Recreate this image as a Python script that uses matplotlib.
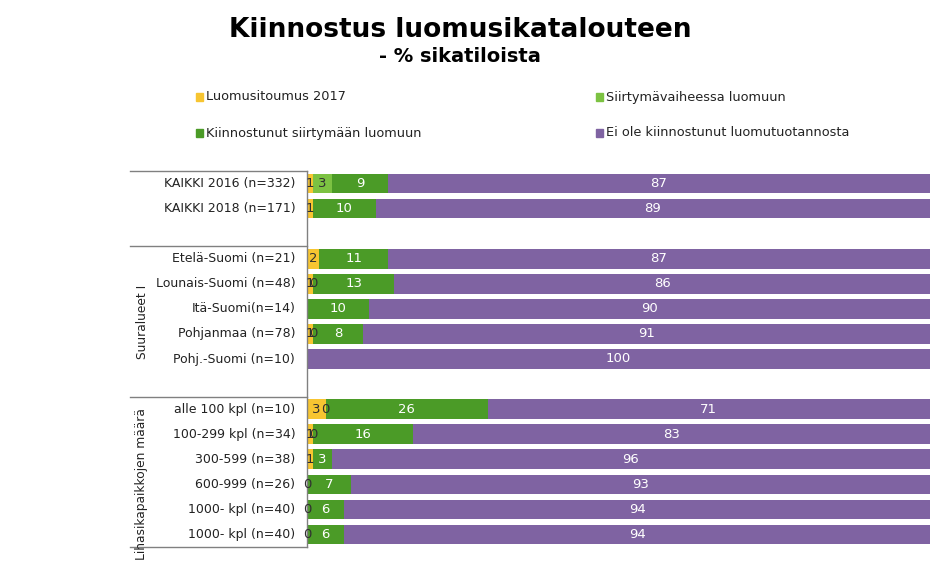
import matplotlib
matplotlib.use("Agg")
import matplotlib.pyplot as plt
import matplotlib.transforms as mtransforms
from matplotlib.lines import Line2D
import numpy as np

plt.rcParams['font.family'] = ['DejaVu Sans']

categories = ["KAIKKI 2016 (n=332)", "KAIKKI 2018 (n=171)",
              "Etelä-Suomi (n=21)", "Lounais-Suomi (n=48)", "Itä-Suomi(n=14)",
              "Pohjanmaa (n=78)", "Pohj.-Suomi (n=10)",
              "alle 100 kpl (n=10)", "100-299 kpl (n=34)", "300-599 (n=38)",
              "600-999 (n=26)", "1000- kpl (n=40)", "1000- kpl (n=40)"]
groups = [None, "Suuralueet I", "Lihasikapaikkojen määrä"]
group_sizes = [2, 5, 6]

series_names = ["Luomusitoumus 2017", "Siirtymävaiheessa luomuun",
                "Kiinnostunut siirtymään luomuun", "Ei ole kiinnostunut luomutuotannosta"]
luomusitoumus = [1, 1, 2, 1, None, 1, None, 3, 1, 1, 0, 0, 0]
siirtyma = [3, None, None, 0, None, 0, None, 0, 0, None, None, None, None]
kiinnostunut = [9, 10, 11, 13, 10, 8, None, 26, 16, 3, 7, 6, 6]
ei_kiinnostunut = [87, 89, 87, 86, 90, 91, 100, 71, 83, 96, 93, 94, 94]

colors = ["#F7C531", "#7CC242", "#4B9B27", "#7F63A2"]
label_colors = ["#303030", "#303030", "white", "white"]

# row positions with gaps between groups
positions = []
slot = 0
for gi, n in enumerate(group_sizes):
    for k in range(n):
        positions.append(slot)
        slot += 1
    slot += 1
positions = np.array(positions, dtype=float)
n_slots = slot - 1

fig = plt.figure(figsize=(9.5, 5.64), dpi=100)
W, H = 950, 564
ax_left, ax_right, ax_top, ax_bottom = 307, 930, 171, 547
ax = fig.add_axes([ax_left / W, 1 - ax_bottom / H, (ax_right - ax_left) / W, (ax_bottom - ax_top) / H])

all_series = [luomusitoumus, siirtyma, kiinnostunut, ei_kiinnostunut]
left = np.zeros(len(categories))
for s, vals in enumerate(all_series):
    v = np.array([0 if x is None else x for x in vals], dtype=float)
    ax.barh(positions, v, left=left, height=0.78, color=colors[s], edgecolor='none')
    for i, x in enumerate(vals):
        if x is None:
            continue
        ax.text(left[i] + v[i] / 2, positions[i], f"{x:g}", ha='center', va='center',
                fontsize=9.5, color=label_colors[s])
    left += v

ax.set_xlim(0, 100)
ax.set_ylim(n_slots - 0.5, -0.5)
ax.set_xticks([])
ax.set_yticks([])
for sp in ax.spines.values():
    sp.set_visible(False)
ax.spines['left'].set_visible(True)
ax.spines['left'].set_color('#808080')
ax.spines['left'].set_linewidth(1.0)

# category labels
for i, c in enumerate(categories):
    ax.text(-1.9, positions[i], c, ha='right', va='center', fontsize=9.0, color='#222222')

# table lines
trans = mtransforms.blended_transform_factory(fig.transFigure, ax.transData)
x0, x1 = 130 / W, ax_left / W
seps = [-0.5]
slot = 0
for n in group_sizes:
    slot += n
    seps.append(slot + 0.5)
    slot += 1
seps[-1] = n_slots - 0.5
for y in seps:
    fig.add_artist(Line2D([x0, x1], [y, y], transform=trans, color='#808080', linewidth=1.0))

# group labels
slot = 0
for g, n in zip(groups, group_sizes):
    start = slot
    slot += n + 1
    if g is None:
        continue
    center = (start - 1 + 0.5 + slot - 1 + 0.5) / 2
    fig.text(142 / W, center, g, transform=trans, rotation=90, ha='center', va='center',
             fontsize=8.8, color='#222222')

# title
fig.text(460 / W, 1 - 30 / H, "Kiinnostus luomusikatalouteen", ha='center', va='center',
         fontsize=19, fontweight='bold')
fig.text(460 / W, 1 - 57 / H, "- % sikatiloista", ha='center', va='center',
         fontsize=14, fontweight='bold')

# legend
legend_pos = [(198, 97), (598, 97), (198, 133), (598, 133)]
for (lx, ly), name, col in zip(legend_pos, series_names, colors):
    fig.patches.append(plt.Rectangle(((lx - 2) / W, 1 - (ly + 4) / H), 7 / W, 8 / H,
                                     transform=fig.transFigure, color=col, figure=fig))
    fig.text((lx + 8) / W, 1 - ly / H, name, ha='left', va='center', fontsize=9.3, color='#222222')

fig.savefig("out.png", dpi=100, facecolor='white')
